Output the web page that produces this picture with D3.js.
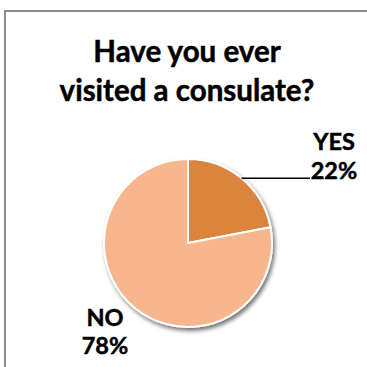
<!DOCTYPE html>
<html>
<head>
<meta charset="utf-8">
<script src="https://cdn.jsdelivr.net/npm/d3@7"></script>
<style>
  html, body { margin: 0; padding: 0; background: #fff; }
  svg { display: block; }
  text { font-family: Lato, "Open Sans", sans-serif; font-weight: bold; fill: #000;
         stroke: #000; stroke-width: 0.5px; }
</style>
</head>
<body>
<div id="chart"></div>
<script>
// Survey answers
const categories = ["YES", "NO"];
const values = [22, 78];
const titleLines = ["Have you ever", "visited a consulate?"];
const sliceColors = ["#DB843D", "#F8B68D"];

const W = 367, H = 367;
const cx = 188, cy = 243, R = 84;

const svg = d3.select("#chart").append("svg")
  .attr("width", W).attr("height", H);

// Chart frame (left and top edges visible)
svg.append("path")
  .attr("d", `M5,${H} V11 H${W}`)
  .attr("fill", "none")
  .attr("stroke", "#8c8c8c")
  .attr("stroke-width", 2);

// Title
svg.append("g").selectAll("text")
  .data(titleLines)
  .join("text")
  .attr("x", 187)
  .attr("y", (d, i) => 62 + i * 39)
  .attr("text-anchor", "middle")
  .attr("font-size", 29.5)
  .text(d => d);

// Soft shadow under the pie
const defs = svg.append("defs");
const f = defs.append("filter").attr("id", "shadow")
  .attr("x", "-20%").attr("y", "-20%").attr("width", "140%").attr("height", "140%");
f.append("feGaussianBlur").attr("in", "SourceAlpha").attr("stdDeviation", 2.2).attr("result", "b");
f.append("feOffset").attr("in", "b").attr("dx", 1.5).attr("dy", 3).attr("result", "o");
f.append("feComponentTransfer").attr("in", "o").attr("result", "s")
  .append("feFuncA").attr("type", "linear").attr("slope", 0.55);
const m = f.append("feMerge");
m.append("feMergeNode").attr("in", "s");
m.append("feMergeNode").attr("in", "SourceGraphic");

const pie = d3.pie().sort(null).value(d => d.value);
const arcs = pie(categories.map((c, i) => ({ cat: c, value: values[i] })));
const arc = d3.arc().innerRadius(0).outerRadius(R);
const color = d3.scaleOrdinal().domain(categories).range(sliceColors);

const g = svg.append("g").attr("transform", `translate(${cx},${cy})`);
g.append("g").attr("filter", "url(#shadow)")
  .selectAll("path")
  .data(arcs)
  .join("path")
  .attr("d", arc)
  .attr("fill", d => color(d.data.cat))
  .attr("stroke", "#fff")
  .attr("stroke-width", 2)
  .attr("stroke-linejoin", "round");

const fmt = d => `${d.data.value}%`;

// YES label with a leader line from the slice's outer edge
const yes = arcs[0];
const midA = (yes.startAngle + yes.endAngle) / 2;
const px = R * Math.sin(midA), py = -R * Math.cos(midA);
g.append("line")
  .attr("x1", px).attr("y1", py)
  .attr("x2", 310 - cx).attr("y2", py)
  .attr("stroke", "#000").attr("stroke-width", 1.5);

const yesLabel = svg.append("text")
  .attr("x", 334).attr("text-anchor", "middle").attr("font-size", 23.5);
yesLabel.append("tspan").attr("x", 334).attr("y", 150).text(yes.data.cat);
yesLabel.append("tspan").attr("x", 334).attr("y", 179).text(fmt(yes));

// NO label below-left of the pie
const no = arcs[1];
const noLabel = svg.append("text")
  .attr("x", 105).attr("text-anchor", "middle").attr("font-size", 23.5);
noLabel.append("tspan").attr("x", 105).attr("y", 326).text(no.data.cat);
noLabel.append("tspan").attr("x", 105).attr("y", 354).text(fmt(no));
</script>
</body>
</html>
